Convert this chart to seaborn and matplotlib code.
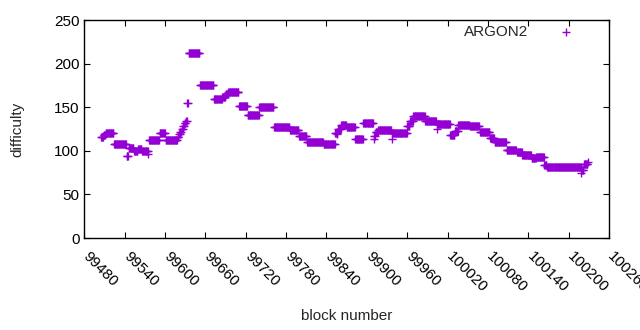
import numpy as np
import pandas as pd
import seaborn as sns
import matplotlib
matplotlib.use("Agg")
import matplotlib.pyplot as plt
import matplotlib.transforms as mtransforms

# plateau start blocks and the difficulty for each one
seg_start = [99505, 99509, 99512, 99524, 99543, 99546, 99554, 99560, 99566, 99576,
             99592, 99601, 99619, 99621, 99623, 99625, 99627, 99629, 99631, 99633,
             99635, 99652, 99673, 99685, 99690, 99694, 99710, 99723, 99740, 99762,
             99786, 99799, 99811, 99836, 99853, 99857, 99862, 99870, 99883, 99895,
             99910, 99913, 99917, 99937, 99960, 99964, 99969, 99987, 100005, 100024,
             100031, 100036, 100053, 100068, 100083, 100090, 100108, 100123, 100131, 100145,
             100152, 100164, 100168, 100219, 100223]
seg_value = [116, 118, 120, 108, 94, 103, 100, 102, 100, 112,
             120, 112, 116, 119, 122, 125, 128, 132, 134, 155,
             212, 176, 159, 162, 165, 168, 151, 141, 150, 127,
             123.5, 117, 110, 108, 120, 125, 130, 127, 114, 131.5,
             117, 121, 123.5, 120.5, 128, 134, 139.6, 134, 131, 118,
             123, 130, 128.5, 121, 115, 110, 101, 99, 95, 91.5,
             92.5, 83.5, 81, 78, 85]
last_block = 100230

# odd single blocks off the plateaus
odd_block = [99575, 99938, 99911, 100004, 100219, 99855, 100229]
odd_value = [96, 114, 113, 125, 75, 119, 87]

lengths = np.diff(seg_start + [last_block])
blocks = np.arange(seg_start[0], last_block)
diff = np.repeat(seg_value, lengths).astype(float)
s = pd.Series(diff, index=blocks)
for b, v in zip(odd_block, odd_value):
    s.loc[b] = v
df = pd.DataFrame({"block": s.index, "difficulty": s.values})

sns.set_theme(style="ticks")
plt.rcParams["font.family"] = ["Liberation Sans", "DejaVu Sans"]
plt.rcParams["font.size"] = 11

fig = plt.figure(figsize=(6.4, 3.3), dpi=100)
ax = fig.add_axes([84.3 / 640, 92 / 330, 524.7 / 640, 218 / 330])

col = "#9400D3"
sns.scatterplot(data=df, x="block", y="difficulty", marker="+", s=30,
                color=col, linewidth=1.0, ax=ax, label="ARGON2")

ax.set_xlim(99480, 100260)
ax.set_ylim(0, 250)
ax.set_xticks(np.arange(99480, 100261, 60))
ax.set_yticks(np.arange(0, 251, 50))
ax.tick_params(direction="in", top=True, right=True, length=4, width=0.8,
               labelsize=11, colors="black")
ax.tick_params(axis="x", pad=6)
shift = mtransforms.ScaledTranslation(6 / 100, -3 / 100, fig.dpi_scale_trans)
for lab in ax.get_xticklabels():
    lab.set_rotation(-45)
    lab.set_ha("left")
    lab.set_va("top")
    lab.set_rotation_mode("anchor")
    lab.set_transform(lab.get_transform() + shift)
for sp in ax.spines.values():
    sp.set_visible(True)
    sp.set_linewidth(1.0)
    sp.set_color("black")

ax.set_xlabel("block number", fontsize=11, labelpad=10)
ax.set_ylabel("difficulty", fontsize=11, labelpad=21)

ax.legend(loc="upper right", bbox_to_anchor=(1.0 - 17 / 524.7, 1.0 + 6 / 218),
          frameon=False, markerfirst=False, fontsize=11, handletextpad=1.5,
          borderaxespad=0.3, markerscale=1.0)

fig.savefig("out.png", dpi=100)
